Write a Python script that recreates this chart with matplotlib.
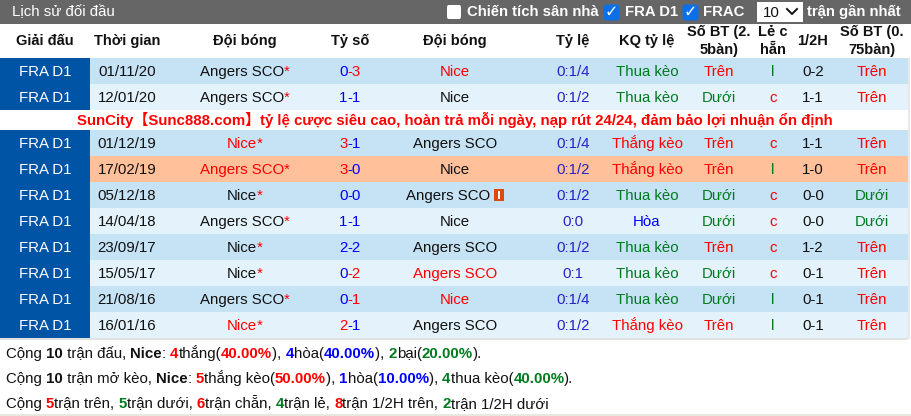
import matplotlib
matplotlib.use('Agg')
import matplotlib.pyplot as plt
from matplotlib.patches import Rectangle, FancyBboxPatch

FONT = ['Liberation Sans', 'Noto Sans CJK SC', 'DejaVu Sans']
plt.rcParams['font.family'] = FONT

RED, BLUE, GREEN, BLACK = '#ff0000', '#0000ff', '#007a1f', '#111111'

headers = ['Giải đấu', 'Thời gian', 'Đội bóng', 'Tỷ số', 'Đội bóng', 'Tỷ lệ', 'KQ tỷ lệ',
           'Số BT (2.\n5bàn)', 'Lẻ c\nhẵn', '1/2H', 'Số BT (0.\n75bàn)']
league = ['FRA D1'] * 10
dates = ['01/11/20', '12/01/20', '01/12/19', '17/02/19', '05/12/18',
         '14/04/18', '23/09/17', '15/05/17', '21/08/16', '16/01/16']
home = ['Angers SCO', 'Angers SCO', 'Nice', 'Angers SCO', 'Nice',
        'Angers SCO', 'Nice', 'Nice', 'Angers SCO', 'Nice']
away = ['Nice', 'Nice', 'Angers SCO', 'Nice', 'Angers SCO',
        'Nice', 'Angers SCO', 'Angers SCO', 'Nice', 'Angers SCO']
away_red_card = [False, False, False, False, True, False, False, False, False, False]
home_goals = [0, 1, 3, 3, 0, 1, 2, 0, 0, 2]
away_goals = [3, 1, 1, 0, 0, 1, 2, 2, 1, 1]
odds = ['0:1/4', '0:1/2', '0:1/4', '0:1/2', '0:1/2', '0:0', '0:1/2', '0:1', '0:1/4', '0:1/2']
odds_result = ['Thua kèo', 'Thua kèo', 'Thắng kèo', 'Thắng kèo', 'Thua kèo',
               'Hòa', 'Thua kèo', 'Thua kèo', 'Thua kèo', 'Thắng kèo']
goals_25 = ['Trên', 'Dưới', 'Trên', 'Trên', 'Dưới', 'Dưới', 'Trên', 'Dưới', 'Dưới', 'Trên']
odd_even = ['l', 'c', 'c', 'l', 'c', 'c', 'c', 'c', 'l', 'l']
half_time = ['0-2', '1-1', '1-1', '1-0', '0-0', '0-0', '1-2', '0-1', '0-1', '0-1']
goals_075 = ['Trên', 'Trên', 'Trên', 'Trên', 'Dưới', 'Dưới', 'Trên', 'Trên', 'Trên', 'Trên']
ad_text = 'SunCity【Sunc888.com】tỷ lệ cược siêu cao, hoàn trả mỗi ngày, nạp rút 24/24, đảm bảo lợi nhuận ổn định'

summary_1 = [('Cộng ', 'k'), ('10', 'K'), (' trận đấu, ', 'k'), ('Nice', 'K'), (': ', 'k'),
             ('4', 'R'), ('thắng(', 'k'), ('40.00%', 'R'), ('), ', 'k'),
             ('4', 'B'), ('hòa(', 'k'), ('40.00%', 'B'), ('), ', 'k'),
             ('2', 'G'), ('bại(', 'k'), ('20.00%', 'G'), (').', 'k')]
summary_2 = [('Cộng ', 'k'), ('10', 'K'), (' trận mở kèo, ', 'k'), ('Nice', 'K'), (': ', 'k'),
             ('5', 'R'), ('thắng kèo(', 'k'), ('50.00%', 'R'), ('), ', 'k'),
             ('1', 'B'), ('hòa(', 'k'), ('10.00%', 'B'), ('), ', 'k'),
             ('4', 'G'), ('thua kèo(', 'k'), ('40.00%', 'G'), (').', 'k')]
summary_3 = [('Cộng ', 'k'), ('5', 'R'), ('trận trên, ', 'k'), ('5', 'G'), ('trận dưới, ', 'k'),
             ('6', 'R'), ('trận chẵn, ', 'k'), ('4', 'G'), ('trận lẻ, ', 'k'),
             ('8', 'R'), ('trận 1/2H trên, ', 'k'), ('2', 'G'), ('trận 1/2H dưới', 'k')]

KINDS = {'k': (BLACK, 'normal'), 'K': (BLACK, 'bold'), 'R': (RED, 'bold'),
         'B': (BLUE, 'bold'), 'G': (GREEN, 'bold')}
RESULT_COLORS = {'Thua kèo': GREEN, 'Thắng kèo': RED, 'Hòa': BLUE}
OU_COLORS = {'Trên': RED, 'Dưới': GREEN}
OE_COLORS = {'c': RED, 'l': GREEN}

FS = 10.8
FS_HEAD = 10.56
FS_BAR = 10.75
col_x = [45, 127, 245, 350, 455, 573, 647, 719, 773, 813, 872]
row_y = [58, 84, 130, 156, 182, 208, 234, 260, 286, 312]
row_h = 26
row_bg = ['#c6e2f5', '#e4f3fb', '#c6e2f5', '#ffc09a', '#c6e2f5',
          '#e4f3fb', '#c6e2f5', '#e4f3fb', '#c6e2f5', '#e4f3fb']

fig = plt.figure(figsize=(9.11, 4.16), dpi=100)
ax = fig.add_axes([0, 0, 1, 1])
ax.set_xlim(0, 911)
ax.set_ylim(416, 0)
ax.axis('off')
renderer = fig.canvas.get_renderer()


def run_width(s, weight):
    # trailing spaces are ignored by the extent, so measure against a dot
    a = ax.text(0, 0, s + '.', fontsize=FS, fontweight=weight)
    b = ax.text(0, 0, '.', fontsize=FS, fontweight=weight)
    w = a.get_window_extent(renderer).width - b.get_window_extent(renderer).width
    a.remove()
    b.remove()
    return w


def draw_runs(x, y, runs, center=False):
    if center:
        x -= sum(run_width(s, w) for s, c, w in runs) / 2
    for s, c, w in runs:
        ax.text(x, y, s, color=c, fontsize=FS, fontweight=w, va='baseline', ha='left')
        x += run_width(s, w)


def cell(x, y, s, color=BLACK, **kw):
    ax.text(x, y, s, color=color, fontsize=FS, ha='center', va='baseline', **kw)


# title bar
ax.add_patch(Rectangle((0, 0), 911, 24, color='#666666', lw=0))
ax.text(12, 16, 'Lịch sử đối đầu', color='white', fontsize=FS, va='baseline')
ax.add_patch(FancyBboxPatch((448, 6), 12, 12, boxstyle='round,pad=1,rounding_size=2', fc='white', ec='none'))
for x in [604.5, 683.5]:
    ax.add_patch(FancyBboxPatch((x, 5.5), 14, 14, boxstyle='round,pad=1,rounding_size=3', fc='#0b6fe8', ec='none'))
    ax.text(x + 7, 12.5, '✓', color='white', fontsize=11.5, fontweight='bold',
            ha='center', va='center', family='DejaVu Sans')
ax.text(467, 16, 'Chiến tích sân nhà', color='white', fontsize=FS_BAR, fontweight='bold', va='baseline')
ax.text(625, 16, 'FRA D1', color='white', fontsize=FS_BAR, fontweight='bold', va='baseline')
ax.text(703, 16, 'FRAC', color='white', fontsize=FS_BAR, fontweight='bold', va='baseline')
ax.add_patch(Rectangle((757, 2), 46, 20, color='white', lw=0))
ax.text(763, 17, '10', color=BLACK, fontsize=FS, va='baseline')
ax.plot([787, 792, 797], [9, 14, 9], color=BLACK, lw=1.4)
ax.text(807, 16, 'trận gần nhất', color='white', fontsize=FS_BAR, fontweight='bold', va='baseline')

# header row
for x, h in zip(col_x, headers):
    ax.text(x, 41, h, color=BLACK, fontsize=FS_HEAD, fontweight='bold', ha='center', va='center',
            linespacing=1.3)

# ad line
ax.text(454.5, 125.5, ad_text, color=RED, fontsize=FS, fontweight='bold', ha='center', va='baseline')

# rows
for i, y0 in enumerate(row_y):
    y = y0 + 18
    ax.add_patch(Rectangle((90, y0), 818, row_h, color=row_bg[i], lw=0))
    ax.add_patch(Rectangle((0, y0), 90, row_h, color='#0054a6', lw=0))
    hg, ag = home_goals[i], away_goals[i]
    cell(col_x[0], y, league[i], 'white')
    cell(col_x[1], y, dates[i])
    home_c = RED if hg > ag else BLACK
    away_c = RED if ag > hg else BLACK
    draw_runs(col_x[2], y, [(home[i], home_c, 'normal'), ('*', RED, 'normal')], center=True)
    left_c = RED if hg > ag else BLUE
    right_c = RED if ag > hg else BLUE
    draw_runs(col_x[3], y, [(str(hg), left_c, 'normal'), ('-' + str(ag), right_c, 'normal')], center=True)
    if away_red_card[i]:
        # team name and card are centred together in the cell
        cell(col_x[4] - 7, y, away[i], away_c)
        ax.add_patch(Rectangle((494, y0 + 6.5), 10, 12, color='#e0480c', lw=0))
        ax.add_patch(Rectangle((497.7, y0 + 8.5), 2.6, 8.5, color='white', lw=0))
    else:
        cell(col_x[4], y, away[i], away_c)
    cell(col_x[5], y, odds[i], '#2a1fc8')
    cell(col_x[6], y, odds_result[i], RESULT_COLORS[odds_result[i]])
    cell(col_x[7], y, goals_25[i], OU_COLORS[goals_25[i]])
    cell(col_x[8], y, odd_even[i], OE_COLORS[odd_even[i]])
    cell(col_x[9], y, half_time[i])
    cell(col_x[10], y, goals_075[i], OU_COLORS[goals_075[i]])

# table borders
ax.add_patch(Rectangle((0, 338), 908, 1.5, color='#e2e2e2', lw=0))
ax.add_patch(Rectangle((908, 58), 1.5, 281, color='#e8e8e8', lw=0))
ax.add_patch(Rectangle((0, 414), 911, 2, color='#e8e8e0', lw=0))

# summary lines
for y, line in zip([358, 383, 408], [summary_1, summary_2, summary_3]):
    draw_runs(6, y, [(s, KINDS[k][0], KINDS[k][1]) for s, k in line])

fig.savefig('out.png', dpi=100)
